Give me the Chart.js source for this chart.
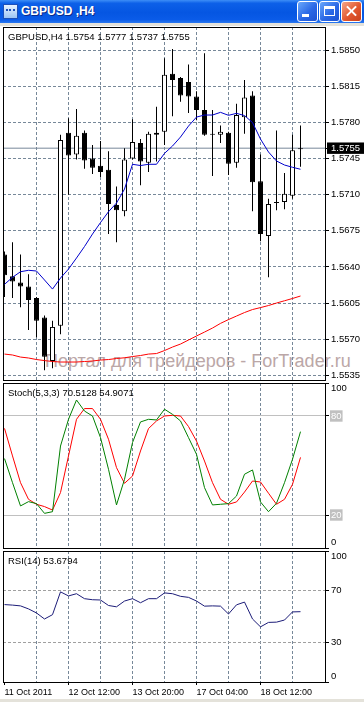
<!DOCTYPE html>
<html>
<head>
<meta charset="utf-8">
<script src="https://cdn.jsdelivr.net/npm/chart.js@4.4.1/dist/chart.umd.min.js"></script>
<style>
    html, body { margin: 0; padding: 0; background: #fff; }
    #win { position: relative; width: 364px; height: 702px; overflow: hidden; background: #fff;
           font-family: 'Liberation Sans', Arial, sans-serif; }
    #titlebar { position: absolute; left: 0; top: 0; width: 364px; height: 23px;
                background: linear-gradient(#3d8ef7 0%, #0d60e8 14%, #0556e2 55%, #0a5be8 85%, #2a78f0 100%); }
    #titlebar .icon { position: absolute; left: 3px; top: 4px; width: 13px; height: 13px;
                      background: linear-gradient(#e8f2ff, #9cc4f4); border: 1px solid #1d4fb8; }
    #titlebar .icon i { position: absolute; left: 2px; bottom: 2px; width: 9px; height: 5px;
                        border-top: 2px dotted #1d4fb8; }
    #titlebar .ttl { position: absolute; left: 21px; top: 4px; color: #fff; font-weight: bold;
                     font-size: 12px; text-shadow: 1px 1px 0 #0a2a8a; white-space: nowrap; }
    .btn { position: absolute; top: 1px; width: 19px; height: 19px; border: 1px solid #fff; border-radius: 3px;
           background: linear-gradient(135deg, #6aa8fb 0%, #2a68e6 55%, #1c52d2 100%); }
    .b-min { left: 297px; }
    .b-min i { position: absolute; left: 4px; bottom: 4px; width: 7px; height: 3px; background: #fff; }
    .b-max { left: 319px; }
    .b-max i { position: absolute; left: 4px; top: 4px; width: 11px; height: 10px; box-sizing: border-box;
               border: 1px solid #fff; border-top-width: 3px; }
    .b-close { left: 341px; background: linear-gradient(135deg, #f3a688 0%, #e2572f 55%, #c9411c 100%); }
    .b-close i, .b-close b { position: absolute; left: 3px; top: 8px; width: 13px; height: 2px; background: #fff; }
    .b-close i { transform: rotate(45deg); }
    .b-close b { transform: rotate(-45deg); }
    .strip { position: absolute; left: 0; width: 364px; background: #e4e2da; }
    canvas { position: absolute; left: 0; }
    .lbl { position: absolute; left: 8px; font-size: 9.5px; color: #000; white-space: nowrap; }
    #wm { position: absolute; left: 45px; top: 351px; font-size: 18px; color: #bba7a7; white-space: nowrap; }
</style>
</head>
<body>
<div id="win">
    <div id="titlebar">
        <div class="icon"><i></i></div>
        <span class="ttl">GBPUSD ,H4</span>
        <div class="btn b-min"><i></i></div>
        <div class="btn b-max"><i></i></div>
        <div class="btn b-close"><i></i><b></b></div>
    </div>
    <div class="strip" style="top:23px;height:3px"></div>
    <div class="strip" style="top:699px;height:3px"></div>
    <div id="wm">Портал для трейдеров - ForTrader.ru</div>
    <canvas id="main" width="364" height="357" style="top:26px"></canvas>
    <canvas id="stoch" width="364" height="167" style="top:382px"></canvas>
    <canvas id="rsi" width="364" height="152" style="top:550px"></canvas>
    <div class="lbl" id="main-lbl" style="top:31px"></div>
    <div class="lbl" id="stoch-lbl" style="top:387px"></div>
    <div class="lbl" id="rsi-lbl" style="top:555px"></div>
</div>
<script>
// GBPUSD H4 bars, oldest first
const opens  = [1.5652, 1.5631, 1.5625, 1.5621, 1.5610, 1.5591, 1.5549, 1.5583, 1.5770, 1.5749,
                1.5770, 1.5745, 1.5738, 1.5734, 1.5700, 1.5694, 1.5745, 1.5760, 1.5741, 1.5768,
                1.5771, 1.5827, 1.5823, 1.5819, 1.5805, 1.5792, 1.5768, 1.5768, 1.5770, 1.5741,
                1.5785, 1.5806, 1.5723, 1.5670, 1.5702, 1.5703, 1.5709, 1.5754];
const highs  = [1.5655, 1.5664, 1.5652, 1.5633, 1.5611, 1.5593, 1.5588, 1.5768, 1.5784, 1.5793,
                1.5772, 1.5758, 1.5762, 1.5752, 1.5718, 1.5755, 1.5783, 1.5764, 1.5771, 1.5795,
                1.5842, 1.5851, 1.5824, 1.5836, 1.5810, 1.5847, 1.5792, 1.5777, 1.5771, 1.5798,
                1.5821, 1.5810, 1.5749, 1.5706, 1.5772, 1.5731, 1.5768, 1.5777];
const lows   = [1.5611, 1.5610, 1.5601, 1.5579, 1.5572, 1.5540, 1.5542, 1.5575, 1.5710, 1.5744,
                1.5735, 1.5730, 1.5727, 1.5672, 1.5664, 1.5689, 1.5744, 1.5719, 1.5732, 1.5742,
                1.5758, 1.5786, 1.5800, 1.5789, 1.5782, 1.5767, 1.5728, 1.5760, 1.5729, 1.5736,
                1.5769, 1.5694, 1.5665, 1.5630, 1.5695, 1.5696, 1.5706, 1.5737];
const closes = [1.5632, 1.5626, 1.5621, 1.5608, 1.5588, 1.5553, 1.5582, 1.5763, 1.5748, 1.5767,
                1.5743, 1.5736, 1.5732, 1.5701, 1.5695, 1.5744, 1.5761, 1.5742, 1.5769, 1.5770,
                1.5826, 1.5821, 1.5806, 1.5805, 1.5792, 1.5768, 1.5769, 1.5771, 1.5740, 1.5787,
                1.5804, 1.5722, 1.5672, 1.5701, 1.5703, 1.5711, 1.5753, 1.5755];

// moving averages (blue fast, red slow)
const maFast = [1.56232, 1.56300, 1.56354, 1.56368, 1.56361, 1.56274, 1.56186, 1.56293, 1.56380, 1.56487,
                1.56598, 1.56719, 1.56830, 1.56935, 1.57019, 1.57154, 1.57394, 1.57382, 1.57394, 1.57394,
                1.57500, 1.57571, 1.57658, 1.57764, 1.57851, 1.57871, 1.57871, 1.57897, 1.57868, 1.57887,
                1.57866, 1.57798, 1.57638, 1.57513, 1.57426, 1.57387, 1.57365, 1.57346];
const maSlow = [1.55557, 1.55548, 1.55528, 1.55519, 1.55504, 1.55494, 1.55485, 1.55480, 1.55480, 1.55480,
                1.55485, 1.55490, 1.55499, 1.55504, 1.55514, 1.55521, 1.55533, 1.55543, 1.55557, 1.55562,
                1.55591, 1.55625, 1.55654, 1.55693, 1.55732, 1.55770, 1.55809, 1.55854, 1.55891, 1.55925,
                1.55959, 1.55988, 1.56007, 1.56027, 1.56051, 1.56073, 1.56095, 1.56119];

// Stoch(5,3,3)
const stochMain   = [54.2, 39.6, 25.5, 28.1, 26.9, 21.0, 22.0, 61.8, 78.0, 89.7,
                     83.0, 80.0, 66.9, 47.7, 26.1, 41.6, 63.9, 76.4, 78.0, 77.6,
                     84.1, 81.0, 77.0, 66.9, 56.8, 36.6, 26.1, 26.5, 26.9, 31.5,
                     44.7, 47.3, 27.9, 22.0, 27.1, 39.6, 53.8, 70.5128];
const stochSignal = [72.5, 55.8, 39.6, 29.5, 26.5, 25.1, 23.0, 33.6, 55.8, 78.0,
                     84.5, 84.5, 78.0, 65.9, 48.7, 39.2, 43.6, 58.8, 72.4, 77.0,
                     80.0, 80.4, 80.0, 73.6, 64.8, 52.7, 39.6, 29.5, 26.5, 27.9,
                     33.9, 40.6, 40.0, 33.2, 26.5, 29.5, 38.6, 54.9071];

// RSI(14)
const rsi = [59.1, 58.7, 58.1, 55.8, 52.7, 48.1, 51.4, 68.8, 65.7, 67.4,
             63.6, 62.8, 62.6, 58.4, 57.4, 61.8, 63.6, 60.5, 63.6, 63.6,
             68.0, 67.4, 65.4, 64.6, 61.8, 57.9, 58.1, 57.9, 51.9, 58.9,
             61.0, 48.1, 42.1, 45.5, 45.7, 47.3, 53.5, 53.6794];

// axis ticks
const priceTicks = [1.5850, 1.5815, 1.5780, 1.5745, 1.5710, 1.5675, 1.5640, 1.5605, 1.5570, 1.5535];
const timeLabels = ['11 Oct 2011', '12 Oct 12:00', '13 Oct 20:00', '17 Oct 04:00', '18 Oct 12:00'];
const stochLevels = [80, 20];
const rsiLevels = [70, 30];

const LABEL_STEP = 8;     // bars between time labels
const GRID_STEP = 4;      // bars between vertical grid lines
const AXIS_W = 39;
const X_MIN = -0.1875, X_MAX = 40.0625;   // leaves the terminal's shift gap on the right
const Y_MIN = 1.55306, Y_MAX = 1.58723;
const GRID = '#778899';
const NONE = 'rgba(0,0,0,0)';
const FONT = "'Liberation Sans', Arial, sans-serif";

Chart.defaults.font.family = FONT;
Chart.defaults.font.size = 9.5;
Chart.defaults.color = '#000';

const last = closes.length - 1;
const pts = arr => arr.map((y, x) => ({x, y}));
const gridBars = [];
for (let i = 0; i < closes.length; i += GRID_STEP) gridBars.push(i);

// black frame round each pane
const paneFrame = {
    id: 'paneFrame',
    afterDraw(chart) {
        const {ctx, chartArea: a} = chart;
        ctx.save();
        ctx.strokeStyle = '#000';
        ctx.lineWidth = 1;
        ctx.strokeRect(a.left + 0.5, a.top + 0.5, a.right - a.left, a.bottom - a.top);
        ctx.restore();
    }
};

// no extra room for edge labels, panes sit flush like in the terminal
function noPad(s) {
    s.paddingTop = 0; s.paddingBottom = 0; s.paddingLeft = 0; s.paddingRight = 0;
}

function xAxis(withLabels) {
    return {
        type: 'linear', min: X_MIN, max: X_MAX, offset: false,
        afterBuildTicks: s => { s.ticks = gridBars.map(v => ({value: v})); },
        afterFit: s => { noPad(s); if (withLabels) s.height = 20; },
        grid: {
            offset: false,
            color: c => c.tick && c.tick.value === 0 ? NONE : GRID,
            drawTicks: withLabels, tickLength: 3, tickBorderDash: [],
            tickColor: c => c.tick && c.tick.value % LABEL_STEP === 0 ? '#000' : NONE
        },
        border: { display: false, dash: [3, 2] },
        ticks: {
            display: withLabels, autoSkip: false, maxRotation: 0, align: 'start', padding: 2,
            font: { size: 9 },
            callback: v => v % LABEL_STEP === 0 ? timeLabels[v / LABEL_STEP] : ''
        }
    };
}

// 100 and 0 sit just inside the pane, like the terminal draws them
const edgeLabel = v => v === 100 ? ['', '100'] : v === 0 ? ['0', ''] : String(v);

function baseOptions(padding) {
    return {
        responsive: false, animation: false, events: [], devicePixelRatio: 1,
        layout: { padding },
        plugins: { legend: { display: false }, tooltip: { enabled: false } }
    };
}

// price pane
new Chart(document.getElementById('main'), {
    type: 'bar',
    data: {
        datasets: [
            { type: 'line', data: [{x: X_MIN, y: closes[last]}, {x: X_MAX, y: closes[last]}],
              borderColor: GRID, borderWidth: 1, pointRadius: 0, order: 5 },
            { data: closes.map((c, i) => ({x: i, y: [lows[i], highs[i]]})),
              backgroundColor: '#000', borderWidth: 0, grouped: false,
              barThickness: 1, maxBarThickness: 1, inflateAmount: 0, order: 4 },
            { data: closes.map((c, i) => ({x: i, y: [opens[i], c]})),
              backgroundColor: closes.map((c, i) => c >= opens[i] ? '#fff' : '#000'),
              borderColor: '#000', borderWidth: 1, borderSkipped: false, grouped: false,
              barThickness: 5, maxBarThickness: 5, inflateAmount: 0, order: 3 },
            { type: 'line', data: pts(maSlow), borderColor: '#ff0000', borderWidth: 1,
              pointRadius: 0, tension: 0, order: 2 },
            { type: 'line', data: pts(maFast), borderColor: '#0000cc', borderWidth: 1,
              pointRadius: 0, tension: 0, order: 1 }
        ]
    },
    options: {
        ...baseOptions({left: 3, top: 1, bottom: 3}),
        scales: {
            x: xAxis(false),
            y: {
                position: 'right', min: Y_MIN, max: Y_MAX,
                afterBuildTicks: s => {
                    s.ticks = [...priceTicks, closes[last]].sort((a, b) => b - a).map(v => ({value: v}));
                },
                afterFit: s => { noPad(s); s.width = AXIS_W; },
                grid: {
                    color: c => c.tick && c.tick.value === closes[last] ? NONE : GRID,
                    tickColor: '#000', tickLength: 4, tickBorderDash: []
                },
                border: { display: false, dash: [3, 2] },
                ticks: {
                    autoSkip: false, padding: 2,
                    callback: v => v.toFixed(4),
                    color: c => c.tick.value === closes[last] ? '#fff' : '#000',
                    showLabelBackdrop: c => c.tick.value === closes[last],
                    backdropColor: '#000',
                    backdropPadding: {left: 4, right: 4, top: 0, bottom: 0}
                }
            }
        }
    },
    plugins: [paneFrame]
});

// stochastic pane
new Chart(document.getElementById('stoch'), {
    type: 'line',
    data: {
        datasets: [
            { data: pts(stochSignal), borderColor: '#ff0000', borderWidth: 1, pointRadius: 0, tension: 0, order: 2 },
            { data: pts(stochMain), borderColor: '#008000', borderWidth: 1, pointRadius: 0, tension: 0, order: 1 }
        ]
    },
    options: {
        ...baseOptions({left: 3, top: 1, bottom: 1}),
        scales: {
            x: xAxis(false),
            y: {
                position: 'right', min: 0, max: 100,
                afterBuildTicks: s => { s.ticks = [100, ...stochLevels, 0].map(v => ({value: v})); },
                afterFit: s => { noPad(s); s.width = AXIS_W; },
                grid: {
                    color: c => c.tick && stochLevels.includes(c.tick.value) ? '#c0c0c0' : NONE,
                    tickColor: '#000', tickLength: 4
                },
                border: { display: false },
                ticks: {
                    autoSkip: false, padding: 2, callback: edgeLabel,
                    color: c => stochLevels.includes(c.tick.value) ? '#fff' : '#000',
                    showLabelBackdrop: c => stochLevels.includes(c.tick.value),
                    backdropColor: '#c0c0c0',
                    backdropPadding: {left: 1, right: 1, top: 0, bottom: 0}
                }
            }
        }
    },
    plugins: [paneFrame]
});

// RSI pane, carries the time axis
new Chart(document.getElementById('rsi'), {
    type: 'line',
    data: {
        datasets: [
            { data: pts(rsi), borderColor: '#1c1c78', borderWidth: 1, pointRadius: 0, tension: 0 }
        ]
    },
    options: {
        ...baseOptions({left: 3, top: 1, bottom: 0}),
        scales: {
            x: xAxis(true),
            y: {
                position: 'right', min: 0, max: 100,
                afterBuildTicks: s => { s.ticks = [100, ...rsiLevels, 0].map(v => ({value: v})); },
                afterFit: s => { noPad(s); s.width = AXIS_W; },
                grid: {
                    color: c => c.tick && rsiLevels.includes(c.tick.value) ? '#a0a0a0' : NONE,
                    tickColor: '#000', tickLength: 4, tickBorderDash: []
                },
                border: { display: false, dash: [3, 2] },
                ticks: { autoSkip: false, padding: 2, callback: edgeLabel }
            }
        }
    },
    plugins: [paneFrame]
});

// pane captions
const f4 = v => v.toFixed(4);
document.getElementById('main-lbl').textContent =
    `GBPUSD,H4  ${f4(opens[last])} ${f4(highs[last])} ${f4(lows[last])} ${f4(closes[last])}`;
document.getElementById('stoch-lbl').textContent =
    `Stoch(5,3,3) ${f4(stochMain[last])} ${f4(stochSignal[last])}`;
document.getElementById('rsi-lbl').textContent = `RSI(14) ${f4(rsi[last])}`;
</script>
</body>
</html>
